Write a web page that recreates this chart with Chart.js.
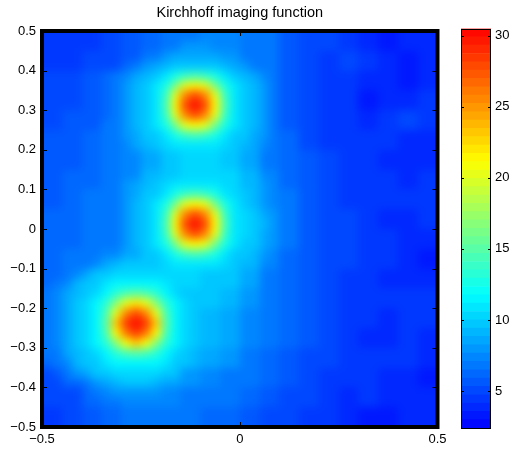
<!DOCTYPE html>
<html>
<head>
<meta charset="utf-8">
<script src="https://cdn.jsdelivr.net/npm/chart.js@4.4.1/dist/chart.umd.min.js"></script>
<style>
	body { margin: 0; background: #fff; }
	#wrap { position: relative; width: 514px; height: 449px; }
	#mapa { position: absolute; left: 0; top: 0; }
	#barra { position: absolute; left: 455px; top: 0; }
</style>
</head>
<body>
<div id="wrap">
	<canvas id="mapa" width="479" height="449" style="width:479px;height:449px"></canvas>
	<canvas id="barra" width="59" height="449" style="width:59px;height:449px"></canvas>
</div>
<script>
// Bordas da grade (mesmas para x e y)
const gridEdges = [-0.5, -0.475, -0.45, -0.425, -0.4, -0.375, -0.35, -0.325, -0.3, -0.275,
	-0.25, -0.225, -0.2, -0.175, -0.15, -0.125, -0.1, -0.075, -0.05, -0.025, 0,
	0.025, 0.05, 0.075, 0.1, 0.125, 0.15, 0.175, 0.2, 0.225, 0.25, 0.275, 0.3,
	0.325, 0.35, 0.375, 0.4, 0.425, 0.45, 0.475, 0.5];
const xTicks = [-0.5, 0, 0.5];
const yTicks = [-0.5, -0.4, -0.3, -0.2, -0.1, 0, 0.1, 0.2, 0.3, 0.4, 0.5];
const cbTicks = [5, 10, 15, 20, 25, 30];
const cLim = [2.4, 30.5];
const nLevels = 48;

// Valores; linha 0 = topo (y = 0.5), coluna 0 = x = -0.5
const zRows = [
	[4.5,4.5,4.5,4.5,4.5,4.5,5,5,5.5,5.5,6,6,6.5,6.5,7,7,7.5,7.5,7.5,7.5,7,7,6.5,6.5,5.5,5.5,5,5,5,5,4.5,4.5,4,4,3.5,3.5,4,4,4,4],
	[4.5,4.5,4.5,4.5,4.5,4.5,5,5,5.5,5.5,6,6,6.5,6.5,8,8,8,7.5,7.5,7.5,7,7,6.5,6.5,5.5,5.5,5,5,5,5,4.5,4.5,4,4,3.5,3.5,4,4,4,4],
	[4.5,4.5,4.5,4.5,5,5,5,5,5.5,5.5,6.5,6.5,8,8.3,8.5,8.5,8.5,8.5,8,8,7,7,6.5,6.5,5.5,5.5,5,5,4.5,4.5,5,5,4.5,4.5,4,4,3.5,3.5,4,4],
	[4.5,4.5,4.5,4.5,5,5,5,5,6,6.5,8,8.5,9.2,9.7,10,10,10,9.7,9.2,8.5,8,7,6.5,6.5,5.5,5.5,5,5,4.5,4.5,5,5,4.5,4.5,4,4,3.5,3.5,4,4],
	[5,5,5,5,5.5,5.5,6,6.5,7.5,8.5,9,9.5,10.8,12.5,14,14.5,14,12.5,10.8,9.5,9,8.5,7.5,6.5,5.5,5.5,5,5,4.5,4.5,4.5,4.5,4,4,4,4,3.5,3.5,4,4],
	[5,5,5,5,5.5,5.5,6,7,8,9,9.8,10.7,12.5,16,20,21.5,20,16,12.5,10.7,9.8,9,8,7,5.5,5.5,5,5,4.5,4.5,4.5,4.5,4,4,4,4,3.5,3.5,4,4],
	[5,5,5,5,5.5,5.5,6,7,8,9,10,11,14,20,25.5,28,25.5,20,14,11,10,9,8,7,5.5,5.5,5,5,4.5,4.5,4.5,4.5,3.5,3.5,4,4,4,4,4.5,4.5],
	[5,5,5,5,5.5,5.5,6,7,8,9,10,11,14.5,21.5,28,30.5,28,21.5,14.5,11,10,9,8,7,5.5,5.5,5,5,4.5,4.5,4.5,4.5,3.5,3.5,4,4,4,4,4.5,4.5],
	[5,5,5.5,5.5,5.5,5.5,6,7,8,9,10,11,14,20,25.5,28,25.5,20,14,11,10,9,8,7,5.5,5.5,5,5,4.5,4.5,4.5,4.5,4,4,4.5,4.5,5,5,4.5,4.5],
	[5,5,5.5,5.5,5.5,5.5,6.5,7,8,9,9.8,10.7,12.5,16,20,21.5,20,16,12.5,10.7,9.8,9,8,7,5.5,5.5,5,5,4.5,4.5,4.5,4.5,4,4,4.5,4.5,5,5,4.5,4.5],
	[5.5,5.5,5.5,5.5,6,6,6.5,7,8,8.8,9.5,10,10.8,12.5,14,14.5,14,12.5,10.8,10,9.5,8.8,8,7,6,6,5,5,4.5,4.5,4.5,4.5,4.5,4.5,4.5,4.5,4,4,4,4],
	[5.5,5.5,5.5,5.5,6,6,6.5,6.5,7.5,8.5,9,9.5,10.2,10.7,11,11,11,10.7,10.2,10,9,8.5,7.5,7,6,6,5,5,4.5,4.5,4.5,4.5,4.5,4.5,4.5,4.5,4,4,4,4],
	[5.5,5.5,5.5,5.5,6,6,6.5,6.5,7.5,7.5,8.5,8.5,10,10,10.5,10.5,10.5,10.5,10,10,8.5,8.5,7,7,6,6,5.5,5.5,5,5,4.5,4.5,4.5,4.5,4,4,4,4,4,4],
	[5.5,5.5,5.5,5.5,6,6,6.5,6.5,7.5,7.5,8.5,8.5,10,10,10.5,10.5,10.5,10.5,10,10,8.5,8.5,7,7,6,6,5.5,5.5,5,5,4.5,4.5,4.5,4.5,4,4,4,4,4,4],
	[5.5,5.5,6,6,6,6,7,7,7.5,7.5,9,9,10,10,10.5,10.5,10.5,10.5,10.5,10.5,9,9,7.5,7.5,6,6,5.5,5.5,5,5,4.5,4.5,4.5,4.5,4.5,4.5,4,4,4.5,4.5],
	[5.5,5.5,6,6,6,6,7,7,8,8.5,9,9.5,10.2,10.7,11,11,11,10.7,10.5,10.5,9,9,8,7.5,6,6,5.5,5.5,5,5,4.5,4.5,4.5,4.5,4.5,4.5,4,4,4.5,4.5],
	[5.5,5.5,6,6,6.5,6.5,7,7,8,8.8,9.5,10,10.8,12.5,14,14.5,14,12.5,10.8,10.5,9.5,9,8,7.5,6.5,6.5,5.5,5.5,5,5,4.5,4.5,4.5,4.5,4.5,4.5,4.5,4.5,4.5,4.5],
	[5.5,5.5,6,6,6.5,6.5,7,7,8,9,9.8,10.7,12.5,16,20,21.5,20,16,12.5,10.7,9.8,9,8,7.5,6.5,6.5,5.5,5.5,5,5,4.5,4.5,4.5,4.5,4.5,4.5,4.5,4.5,4.5,4.5],
	[6,6,6,6,6.5,6.5,7,7,8,9,10,11,14,20,25.5,28,25.5,20,14,11,10.3,9.5,8.5,8,7,6.5,5.5,5.5,5,5,5,5,4.5,4.5,4,4,4,4,4.5,4.5],
	[6,6,6,6,6.5,6.5,7,7,8,9,10,11,14.5,21.5,28,30.5,28,21.5,14.5,11,10.5,9.8,9,8,7,6.5,5.5,5.5,5,5,5,5,4.5,4.5,4,4,4,4,4.5,4.5],
	[6,6,6,6,6.5,6.5,7,7,8,9,10,11,14,20,25.5,28,25.5,20,14,11,10.3,9.5,8.5,8,7,6.5,5.5,5.5,5,5,5,5,4.5,4.5,4.5,4.5,4,4,4,4],
	[6,6,6,6,6.5,6.5,7,7,8,9,9.8,10.7,12.5,16,20,21.5,20,16,12.5,10.7,9.8,9.5,8.5,8,7,6.5,5.5,5.5,5,5,5,5,4.5,4.5,4.5,4.5,4,4,4,4],
	[6,6,6.5,6.5,6.5,6.5,7.5,7.5,8.5,8.8,9.5,10,10.8,12.5,14,14.5,14,12.5,10.8,10,9.5,9,8,7.5,6,6,5.5,5.5,5,5,5,5,4.5,4.5,4.5,4.5,4,4,3.5,3.5],
	[6,6,6.5,6.5,7,7.5,8.5,9,9.5,9.5,9.5,9.5,10.2,10.7,11,11,11,10.7,10.2,10,9,9,7.5,7.5,6,6,5.5,5.5,5,5,5,5,4.5,4.5,4.5,4.5,4,4,3.5,3.5],
	[6,6,7,7.5,8.5,9.5,10,10.3,10.5,10.5,10.5,10.3,10.5,10.5,10.5,10.5,10,10,9.5,9.5,8.5,8.5,7,7,6,6,5.5,5.5,5,5,4.5,4.5,4.5,4.5,4,4,4,4,4,4],
	[6,6.5,7.5,9,9.5,10,10.7,11.2,11.5,11.5,11.5,11.2,10.7,10.5,10.5,10.5,10,10,9.5,9.5,8.5,8.5,7,7,6,6,5.5,5.5,5,5,4.5,4.5,4.5,4.5,4,4,4,4,4,4],
	[7,7.5,8.5,9.3,10,10.5,11.5,13,14.5,15,14.5,13,11.5,10.5,10,10,9.5,9.5,9,9,8,8,6.5,6.5,6,6,5.5,5.5,5,5,4.5,4.5,4.5,4.5,4.5,4.5,4.5,4.5,4.5,4.5],
	[7,7.5,8.8,9.5,10.3,11.2,13,16.5,20.5,22,20.5,16.5,13,11.2,10.3,10,9.5,9.5,9,9,8,8,6.5,6.5,6,6,5.5,5.5,5,5,4.5,4.5,4.5,4.5,4.5,4.5,4.5,4.5,4.5,4.5],
	[7,7.5,8.8,9.5,10.5,11.5,14.5,20.5,25.5,28,25.5,20.5,14.5,11.5,10.5,10,9,9,8.5,8.5,7.5,7.5,6.5,6.5,6,6,5.5,5.5,5,5,4.5,4.5,4.5,4.5,4,4,4.5,4.5,4.5,4.5],
	[7,7.5,8.8,9.5,10.5,11.5,15,23,28.5,30.5,28.5,23,15,11.5,10.5,10,9,9,8.5,8.5,7.5,7.5,6.5,6.5,6,6,5.5,5.5,5,5,4.5,4.5,4.5,4.5,4,4,4.5,4.5,4.5,4.5],
	[7,7.5,8.8,9.5,10.5,11.5,14.5,21.5,26,28.5,26,21.5,14.5,11.5,10.5,10,9,9,8.5,8.5,7.5,7.5,6.5,6.5,6,6,5.5,5.5,5,5,4.5,4.5,4,4,4,4,4.5,4.5,4,4],
	[7,7.5,8.8,9.5,10.3,11.2,13,17,21,23,21,17,13,11.2,10.3,10,9,9,8.5,8.5,7.5,7.5,6.5,6.5,6,6,5.5,5.5,5,5,4.5,4.5,4,4,4,4,4.5,4.5,4,4],
	[6.5,7,8.5,9.3,10,10.5,11.5,13,14.5,15,14.5,13,11.5,10.5,10,9.3,8.5,8.5,8,8,7,7,6,6,5.5,5.5,5,5,5,5,4.5,4.5,4.5,4.5,4.5,4.5,4.5,4.5,4,4],
	[6,6.5,7.5,9,9.5,10,10.7,11.2,11.5,11.5,11.5,11.2,10.7,10,9.5,9,8.5,8.5,8,8,7,7,6,6,5.5,5.5,5,5,5,5,4.5,4.5,4.5,4.5,4.5,4.5,4.5,4.5,4,4],
	[5,5.5,7,8,8.5,9.5,10,10.3,10.5,10.5,10.5,10.3,10,9.5,8,8,7.5,7.5,7,7,6.5,6.5,6,6,5.5,5.5,5,5,4.5,4.5,4.5,4.5,4.5,4.5,4,4,4,4,3.5,3.5],
	[5,5,6,6,7,8,8.5,9,9.5,9.5,9.5,9,8.5,8.5,8,8,7.5,7.5,7,7,6.5,6.5,6,6,5.5,5.5,5,5,4.5,4.5,4.5,4.5,4.5,4.5,4,4,4,4,3.5,3.5],
	[5,5,5,5,6,6.5,7.5,8,8,8,8,8,7.5,7.5,7,7,6.5,6.5,6.5,6.5,6,6,5.5,5.5,5,5,5,5,4.5,4.5,4,4,4.5,4.5,4,4,4,4,4,4],
	[5,5,5,5,6,6,6.5,7,7.5,7.5,7.5,7.5,7.5,7.5,7,7,6.5,6.5,6.5,6.5,6,6,5.5,5.5,5,5,5,5,4.5,4.5,4,4,4.5,4.5,4,4,4,4,4,4],
	[4.5,4.5,5,5,5.5,5.5,6,6,6.5,6.5,6.5,6.5,6.5,6.5,6.5,6.5,6,6,6,6,5.5,5.5,5,5,5,5,4.5,4.5,4.5,4.5,4,4,3.5,3.5,3.5,3.5,4,4,4,4],
	[4.5,4.5,5,5,5.5,5.5,6,6,6.5,6.5,6.5,6.5,6.5,6.5,6.5,6.5,6,6,6,6,5.5,5.5,5,5,5,5,4.5,4.5,4.5,4.5,4,4,3.5,3.5,3.5,3.5,4,4,4,4]
];

const fonte = { family: "'Liberation Sans', Arial, Helvetica, sans-serif", size: 13 };

// Mapa de cores (jet, do azul ao vermelho)
function corJet(v) {
	let t = (v - cLim[0]) / (cLim[1] - cLim[0]);
	t = Math.min(Math.max(t, 0), 0.9999);
	t = (Math.floor(t * nLevels) + 0.5) / nLevels;
	let r, g, b;
	if (t < 1 / 3) {
		r = 0; g = 3 * t; b = 1;
	} else if (t < 2 / 3) {
		r = 3 * t - 1; g = 1; b = 2 - 3 * t;
	} else {
		r = 1; g = 3 - 3 * t; b = 0;
	}
	return `rgb(${Math.round(r * 255)},${Math.round(g * 255)},${Math.round(b * 255)})`;
}

function formatarTick(v) {
	if (Math.abs(v) < 1e-9) return "0";
	return String(+v.toFixed(1)).replace("-", "\u2212");
}

// Desenha as células (suavizadas) e a moldura
const pluginMapa = {
	id: "mapaCalor",
	beforeDatasetsDraw(chart) {
		const { ctx, chartArea: a, scales: { x, y } } = chart;
		const n = gridEdges.length;
		const ext = 14; // células da borda passam um pouco da área
		const off = document.createElement("canvas");
		off.width = chart.width;
		off.height = chart.height;
		const octx = off.getContext("2d");
		zRows.forEach((linha, r) => {
			let y0 = Math.round(y.getPixelForValue(gridEdges[n - 1 - r]));
			let y1 = Math.round(y.getPixelForValue(gridEdges[n - 2 - r]));
			if (r === 0) y0 -= ext;
			if (r === zRows.length - 1) y1 += ext;
			linha.forEach((v, i) => {
				let x0 = Math.round(x.getPixelForValue(gridEdges[i]));
				let x1 = Math.round(x.getPixelForValue(gridEdges[i + 1]));
				if (i === 0) x0 -= ext;
				if (i === linha.length - 1) x1 += ext;
				octx.fillStyle = corJet(v);
				octx.fillRect(x0, y0, x1 - x0, y1 - y0);
			});
		});
		ctx.save();
		ctx.beginPath();
		ctx.rect(a.left, a.top, a.width, a.height);
		ctx.clip();
		ctx.filter = "blur(4px)";
		ctx.drawImage(off, 0, 0);
		ctx.restore();
	},
	afterDraw(chart) {
		const { ctx, chartArea: a, scales: { x, y } } = chart;
		const len = 5;
		ctx.save();
		ctx.strokeStyle = "#000";
		ctx.lineWidth = 1;
		ctx.beginPath();
		yTicks.forEach((v) => {
			const py = Math.round(y.getPixelForValue(v)) + 0.5;
			ctx.moveTo(a.left, py); ctx.lineTo(a.left + len, py);
			ctx.moveTo(a.right, py); ctx.lineTo(a.right - len, py);
		});
		xTicks.forEach((v) => {
			const px = Math.round(x.getPixelForValue(v)) + 0.5;
			ctx.moveTo(px, a.top); ctx.lineTo(px, a.top + len);
			ctx.moveTo(px, a.bottom); ctx.lineTo(px, a.bottom - len);
		});
		ctx.stroke();
		ctx.lineWidth = 4;
		ctx.strokeRect(a.left, a.top, a.width, a.height);
		ctx.restore();
	}
};

new Chart(document.getElementById("mapa"), {
	type: "scatter",
	data: { datasets: [{ data: [] }] },
	options: {
		responsive: false,
		animation: false,
		layout: { padding: { left: 0, right: 41.5, top: 0, bottom: 0 } },
		plugins: {
			legend: { display: false },
			tooltip: { enabled: false },
			title: {
				display: true,
				fullSize: false,
				text: "Kirchhoff imaging function",
				color: "#000",
				font: { ...fonte, size: 14.5, weight: "normal" },
				padding: { top: 4, bottom: 9.6 }
			}
		},
		scales: {
			x: {
				type: "linear",
				min: -0.5,
				max: 0.5,
				grid: { display: false, drawTicks: false },
				border: { display: false },
				afterBuildTicks: (s) => { s.ticks = xTicks.map((v) => ({ value: v })); },
				afterFit: (s) => { s.height = 22; },
				ticks: { padding: 5, color: "#000", font: fonte, maxRotation: 0, callback: formatarTick }
			},
			y: {
				type: "linear",
				min: -0.5,
				max: 0.5,
				grid: { display: false, drawTicks: false },
				border: { display: false },
				afterBuildTicks: (s) => { s.ticks = yTicks.map((v) => ({ value: v })); },
				afterFit: (s) => { s.width = 42; },
				ticks: { padding: 6, color: "#000", font: fonte, callback: formatarTick }
			}
		}
	},
	plugins: [pluginMapa]
});

// Barra de cores
const faixas = [];
for (let k = 0; k < nLevels; k++) {
	const passo = (cLim[1] - cLim[0]) / nLevels;
	faixas.push([cLim[0] + k * passo, cLim[0] + (k + 1) * passo]);
}

const pluginBarra = {
	id: "molduraBarra",
	afterDraw(chart) {
		const { ctx, chartArea: a, scales: { y } } = chart;
		ctx.save();
		ctx.strokeStyle = "#000";
		ctx.lineWidth = 1;
		ctx.beginPath();
		cbTicks.forEach((v) => {
			const py = Math.round(y.getPixelForValue(v)) + 0.5;
			ctx.moveTo(a.left, py); ctx.lineTo(a.left + 3, py);
			ctx.moveTo(a.right, py); ctx.lineTo(a.right - 3, py);
		});
		ctx.stroke();
		ctx.strokeRect(Math.round(a.left) + 0.5, Math.round(a.top) + 0.5,
			Math.round(a.width) - 1, Math.round(a.height) - 1);
		ctx.restore();
	}
};

new Chart(document.getElementById("barra"), {
	type: "bar",
	data: {
		labels: [""],
		datasets: faixas.map((f) => ({
			data: [f],
			backgroundColor: corJet((f[0] + f[1]) / 2),
			borderWidth: 0,
			grouped: false,
			barPercentage: 1,
			categoryPercentage: 1
		}))
	},
	options: {
		responsive: false,
		animation: false,
		layout: { padding: { left: 6, right: 0, top: 28.5, bottom: 21 } },
		plugins: { legend: { display: false }, tooltip: { enabled: false } },
		scales: {
			x: { display: false },
			y: {
				position: "right",
				min: cLim[0],
				max: cLim[1],
				grid: { display: false, drawTicks: false },
				border: { display: false },
				afterBuildTicks: (s) => { s.ticks = cbTicks.map((v) => ({ value: v })); },
				afterFit: (s) => { s.width = 23; },
				ticks: { padding: 4, color: "#000", font: fonte }
			}
		}
	},
	plugins: [pluginBarra]
});
</script>
</body>
</html>
